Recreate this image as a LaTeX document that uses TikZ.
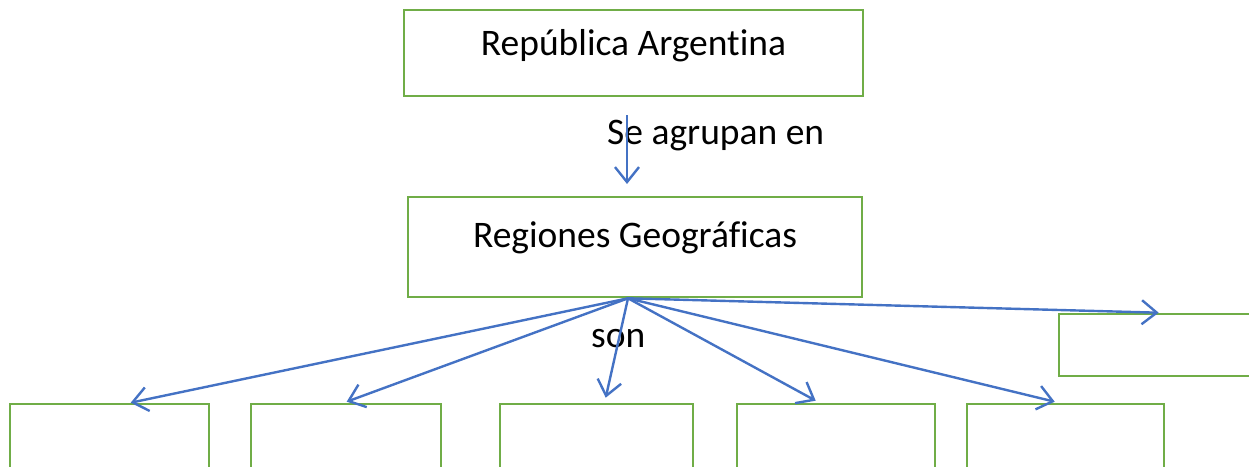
\documentclass[tikz,border=0pt]{standalone}
\usepackage{fontspec}
\setmainfont{Carlito}[Ligatures=CommonOff]
\usetikzlibrary{arrows.meta,calc}
\definecolor{boxgreen}{HTML}{70AD47}
\definecolor{arrowblue}{HTML}{4472C4}
\begin{document}
\begin{tikzpicture}[x=1pt,y=-1pt,
  box/.style={draw=boxgreen, line width=2.6pt, rectangle, inner sep=0pt, fill=none},
  conn/.style={draw=arrowblue, line width=2.4pt, -{Straight Barb[length=15pt,width=24pt,line width=2.4pt]}},
  big/.style={font=\fontsize{37.5}{42}\selectfont},
  txt/.style={big, inner sep=0pt, anchor=base west}]
\useasboundingbox (0,0) rectangle (1249,466);
\clip (0,0) rectangle (1249,466);
% top boxes
\node[box, big, minimum width=459pt, minimum height=86pt, text height=45pt, text depth=41pt] (A) at (633.5,53) {República Argentina};
\node[box, big, minimum width=454pt, minimum height=100pt, text height=50pt, text depth=50pt] (B) at (635,247) {Regiones Geográficas};
% bottom boxes
\node[box, minimum width=199pt, minimum height=76pt] (b1) at (109.5,442) {};
\node[box, minimum width=190pt, minimum height=76pt] (b2) at (346,442) {};
\node[box, minimum width=193pt, minimum height=76pt] (b3) at (596.5,442) {};
\node[box, minimum width=198pt, minimum height=76pt] (b4) at (836,442) {};
\node[box, minimum width=197pt, minimum height=76pt] (b5) at (1065.5,442) {};
\node[box, minimum width=203pt, minimum height=62pt] (r) at (1160.5,345) {};
% labels
\node[txt] (lab1) at (607,144) {Se agrupan en};
\node[txt] (lab2) at (591,347) {son};
% connectors
\coordinate (s1) at (627,115);
\coordinate (e1) at (627,184);
\draw[conn] (s1) -- (e1);
\coordinate (src) at ([xshift=-7pt]B.south);
\draw[conn] (src) -- ([xshift=122pt]b1.north west);
\draw[conn] (src) -- ([xshift=97pt,yshift=1pt]b2.north west);
\draw[conn] (src) -- ([xshift=107pt,yshift=5pt]b3.north west);
\draw[conn] (src) -- ([xshift=80pt,yshift=2pt]b4.north west);
\draw[conn] (src) -- ([xshift=89pt,yshift=1pt]b5.north west);
\draw[conn] (src) -- ([xshift=101pt]r.north west);
\end{tikzpicture}
\end{document}
